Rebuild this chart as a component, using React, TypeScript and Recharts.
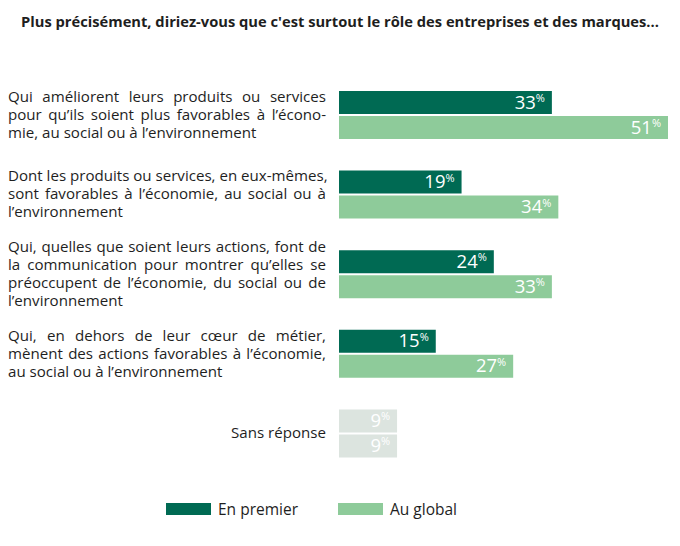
import React from 'react';
import { BarChart, Bar, XAxis, YAxis, Cell, LabelList } from 'recharts';

const title =
  "Plus précisément, diriez-vous que c'est surtout le rôle des entreprises et des marques...";

// Category labels, one entry per row, with explicit line breaks
const categories = [
  'Qui améliorent leurs produits ou services\npour qu’ils soient plus favorables à l’écono-\nmie, au social ou à l’environnement',
  'Dont les produits ou services, en eux-mêmes,\nsont favorables à l’économie, au social ou à\nl’environnement',
  'Qui, quelles que soient leurs actions, font de\nla communication pour montrer qu’elles se\npréoccupent de l’économie, du social ou de\nl’environnement',
  'Qui, en dehors de leur cœur de métier,\nmènent des actions favorables à l’économie,\nau social ou à l’environnement',
  'Sans réponse',
];

const enPremier = [33, 19, 24, 15, 9];
const auGlobal = [51, 34, 33, 27, 9];
const seriesNames = ['En premier', 'Au global'];

const DARK = '#006a53';
const LIGHT = '#8ecb9a';
const GREY = '#dce4df';
const TEXT = '#1e1e1e';
const FONT = '"Open Sans", sans-serif';

const data = categories.map((category, i) => ({
  category,
  premier: enPremier[i],
  global: auGlobal[i],
}));

const LINE_H = 18;

const CategoryTick = (props: any) => {
  const { y, payload } = props;
  const lines = String(payload.value).split('\n');
  const h = lines.length * LINE_H;
  const single = lines.length === 1;
  return (
    <foreignObject x={0} y={y - h / 2 - 1} width={326} height={h + 4}>
      <div
        style={{
          fontFamily: FONT,
          fontSize: 15.1,
          lineHeight: `${LINE_H}px`,
          color: TEXT,
          width: 318,
        }}
      >
        {lines.map((line, i) => {
          const last = i === lines.length - 1;
          const align = single ? 'right' : last ? 'left' : 'justify';
          return (
            <div
              key={i}
              style={{
                textAlign: align as any,
                textAlignLast: align as any,
                whiteSpace: 'nowrap',
              }}
            >
              {line}
            </div>
          );
        })}
      </div>
    </foreignObject>
  );
};

const ValueLabel = (props: any) => {
  const { x, y, width, height, value } = props;
  return (
    <text
      x={x + width - 7}
      y={y + height / 2 + 6}
      textAnchor="end"
      fill="#ffffff"
      fontFamily={FONT}
    >
      <tspan fontSize={18.5}>{value}</tspan>
      <tspan fontSize={11} dy={-6.5}>
        %
      </tspan>
    </text>
  );
};

export default function App() {
  const legendItems = [
    { name: seriesNames[0], color: DARK, left: 158 },
    { name: seriesNames[1], color: LIGHT, left: 330 },
  ];
  return (
    <div style={{ position: 'relative', width: 664, height: 528 }}>
      <div
        style={{
          position: 'absolute',
          top: 3,
          left: 0,
          width: 664,
          textAlign: 'center',
          fontFamily: FONT,
          fontWeight: 700,
          fontSize: 14.7,
          color: TEXT,
        }}
      >
        {title}
      </div>
      <BarChart
        width={664}
        height={528}
        data={data}
        layout="vertical"
        margin={{ top: 67, right: 4, bottom: 63, left: 0 }}
        barSize={23}
        barGap={2}
      >
        <XAxis type="number" hide domain={[0, 51]} />
        <YAxis
          type="category"
          dataKey="category"
          width={331}
          tickLine={false}
          axisLine={false}
          interval={0}
          tick={<CategoryTick />}
        />
        <Bar dataKey="premier" name={seriesNames[0]} fill={DARK} isAnimationActive={false}>
          {data.map((d, i) => (
            <Cell key={i} fill={i === data.length - 1 ? GREY : DARK} />
          ))}
          <LabelList dataKey="premier" content={<ValueLabel />} />
        </Bar>
        <Bar dataKey="global" name={seriesNames[1]} fill={LIGHT} isAnimationActive={false}>
          {data.map((d, i) => (
            <Cell key={i} fill={i === data.length - 1 ? GREY : LIGHT} />
          ))}
          <LabelList dataKey="global" content={<ValueLabel />} />
        </Bar>
      </BarChart>
      {legendItems.map((item) => (
        <div
          key={item.name}
          style={{
            position: 'absolute',
            left: item.left,
            top: 490,
            display: 'flex',
            alignItems: 'center',
            fontFamily: FONT,
            fontSize: 15.5,
            color: TEXT,
          }}
        >
          <span
            style={{
              display: 'inline-block',
              width: 45,
              height: 12,
              background: item.color,
              marginRight: 7,
            }}
          />
          <span>{item.name}</span>
        </div>
      ))}
    </div>
  );
}
